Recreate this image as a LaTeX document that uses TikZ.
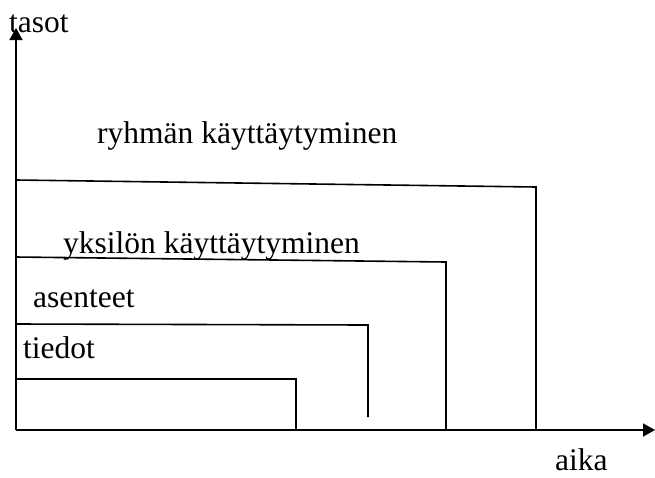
\documentclass[tikz,border=0pt]{standalone}
\usepackage{fontspec}
\setmainfont{Liberation Serif}
\usetikzlibrary{arrows.meta}

\begin{document}
\begin{tikzpicture}[x=1pt,y=-1pt,
  axis/.style={line width=1.6pt,-{Triangle[length=12pt,width=13pt]}},
  level/.style={line width=1.6pt,line join=miter},
  lbl/.style={inner sep=0pt,anchor=base west,font=\fontsize{31.5}{36}\selectfont}]
  \useasboundingbox (0,0) rectangle (655,477);

  % axes
  \coordinate (O) at (16,430);
  \coordinate (ytip) at (16,28);
  \coordinate (xtip) at (655,430);
  \draw[axis] (O) -- (ytip);
  \draw[axis] (O) -- (xtip);

  % nested levels over time
  \coordinate (r1) at (16,180);  \coordinate (r2) at (536,187);  \coordinate (r3) at (536,430);
  \coordinate (y1) at (16,257);  \coordinate (y2) at (446,262);  \coordinate (y3) at (446,430);
  \coordinate (a1) at (16,324);  \coordinate (a2) at (368,325);  \coordinate (a3) at (368,417);
  \coordinate (t1) at (16,379);  \coordinate (t2) at (296,379);  \coordinate (t3) at (296,430);
  \draw[level] (r1) -- (r2) -- (r3);
  \draw[level] (y1) -- (y2) -- (y3);
  \draw[level] (a1) -- (a2) -- (a3);
  \draw[level] (t1) -- (t2) -- (t3);

  % labels
  \node[lbl] (tasot) at (9,32) {tasot};
  \node[lbl] (ryhma) at (97,143) {ryhmän käyttäytyminen};
  \node[lbl] (yksilo) at (63,253) {yksilön käyttäytyminen};
  \node[lbl] (asenteet) at (33,307) {asenteet};
  \node[lbl] (tiedot) at (23,358) {tiedot};
  \node[lbl] (aika) at (555,470) {aika};
\end{tikzpicture}
\end{document}
